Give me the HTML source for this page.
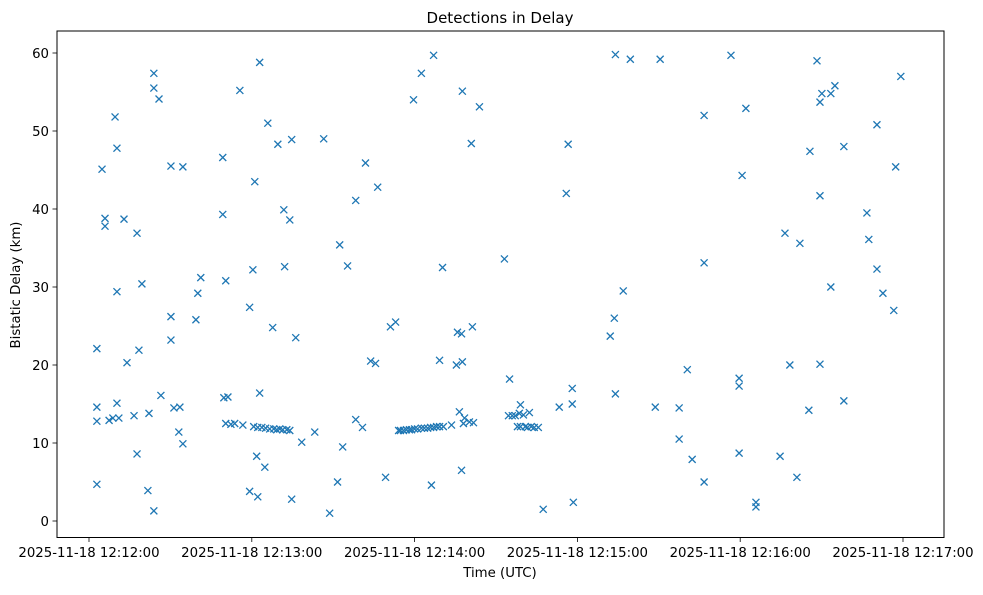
<!DOCTYPE html>
<html><head><meta charset="utf-8"><style>
body{margin:0;background:#fff;width:983px;height:590px;overflow:hidden;font-family:"Liberation Sans","DejaVu Sans",sans-serif}
svg text{font-family:"DejaVu Sans","Liberation Sans",sans-serif;fill:#000}
</style></head><body>
<svg id="chart" width="983" height="590" xmlns="http://www.w3.org/2000/svg">
<rect width="983" height="590" fill="#fff"/>
<text x="500" y="23" font-size="15" text-anchor="middle">Detections in Delay</text>
<g id="marks"></g>
<g id="axes"></g>
<rect x="57" y="31" width="887" height="506.5" fill="none" stroke="#000" stroke-width="1"/>
<text x="500" y="577" font-size="13.3" text-anchor="middle">Time (UTC)</text>
<text transform="translate(20,285) rotate(-90)" font-size="13.3" text-anchor="middle">Bistatic Delay (km)</text>
</svg>
<script>
// seconds after 2025-11-18 12:12:00
const times = [2.9,2.9,2.9,2.9,4.8,5.9,5.9,7.4,8.8,9.6,10.3,10.3,10.3,11.0,12.9,14.0,16.6,17.7,17.7,18.4,19.5,21.7,22.1,23.9,23.9,23.9,25.8,26.5,30.2,30.2,30.2,31.3,33.1,33.5,34.6,34.6,39.4,40.1,41.2,49.3,49.3,49.7,50.4,51.2,50.4,52.3,53.7,55.6,56.7,59.2,59.2,60.4,60.7,61.1,61.8,62.2,62.9,62.9,62.2,63.7,64.8,65.1,65.9,66.6,67.7,68.1,69.2,69.6,70.3,71.4,71.8,72.1,72.9,74.0,74.0,74.7,74.7,76.2,78.4,83.2,86.5,88.7,91.6,92.4,93.5,95.3,98.3,98.3,100.8,101.9,103.8,105.6,106.4,109.3,111.1,113.0,114.1,114.8,115.9,117.0,118.1,118.9,119.6,120.0,121.1,122.5,122.5,123.6,124.8,125.9,126.2,127.0,127.0,128.1,129.2,129.2,130.3,130.6,133.6,135.4,135.8,136.5,137.3,137.3,137.6,137.6,138.0,138.4,140.2,140.9,141.3,141.7,143.9,153.1,155.0,154.6,156.0,157.1,157.9,158.6,159.0,159.0,160.1,160.8,161.6,162.3,163.0,164.1,165.6,167.4,173.3,175.9,176.6,178.1,178.1,178.5,192.1,193.6,194.0,194.0,196.9,199.5,208.7,210.5,217.5,217.5,220.5,222.3,226.7,226.7,226.7,236.6,239.6,239.6,239.6,240.7,242.1,245.8,245.8,254.7,256.5,258.3,260.9,262.0,265.3,265.7,268.3,269.4,269.4,269.4,270.1,273.4,273.4,274.9,278.2,278.2,286.7,287.4,290.4,290.4,292.6,296.6,297.3,299.2];
const delays = [22.1,14.6,12.8,4.7,45.1,38.8,37.8,12.9,13.2,51.8,47.8,29.4,15.1,13.2,38.7,20.3,13.5,36.9,8.6,21.9,30.4,3.9,13.8,57.4,55.5,1.3,54.1,16.1,45.5,26.2,23.2,14.5,11.4,14.6,9.9,45.4,25.8,29.2,31.2,46.6,39.3,15.8,30.8,15.9,12.5,12.4,12.5,55.2,12.3,3.8,27.4,32.2,12.1,43.5,8.3,3.1,58.8,16.4,12.0,12.0,6.9,11.9,51.0,11.8,24.8,11.8,11.7,48.3,11.8,11.7,39.9,32.6,11.7,38.6,11.6,2.8,48.9,23.5,10.1,11.4,49.0,1.0,5.0,35.4,9.5,32.7,41.1,13.0,12.0,45.9,20.5,20.2,42.8,5.6,24.9,25.5,11.6,11.6,11.6,11.7,11.7,11.7,54.0,11.8,11.8,57.4,11.9,11.9,11.9,12.0,4.6,12.0,59.7,12.1,20.6,12.1,32.5,12.1,12.3,20.0,24.2,14.0,6.5,24.0,55.1,20.4,12.5,13.2,12.7,48.4,24.9,12.6,53.1,33.6,18.2,13.5,13.5,13.5,12.1,13.8,14.9,12.1,13.6,12.1,12.0,13.9,12.1,12.0,12.0,1.5,14.6,42.0,48.3,17.0,15.0,2.4,23.7,26.0,16.3,59.8,29.5,59.2,14.6,59.2,14.5,10.5,19.4,7.9,52.0,33.1,5.0,59.7,18.3,17.3,8.7,44.3,52.9,2.4,1.8,8.3,36.9,20.0,5.6,35.6,14.2,47.4,59.0,53.7,41.7,20.1,54.8,54.8,30.0,55.8,48.0,15.4,39.5,36.1,32.3,50.8,29.2,27.0,45.4,57.0];
const xTickSecs = [0,60,120,180,240,300];
const xTickLabels = ["2025-11-18 12:12:00","2025-11-18 12:13:00","2025-11-18 12:14:00","2025-11-18 12:15:00","2025-11-18 12:16:00","2025-11-18 12:17:00"];
const yTicks = [0,10,20,30,40,50,60];

const NS = "http://www.w3.org/2000/svg";
function xScale(s){ return 89 + s * (162.8/60); }
function yScale(v){ return 521 - v * 7.8; }
const marks = document.getElementById('marks');
const axes = document.getElementById('axes');
function mk(tag, attrs, parent){ const e=document.createElementNS(NS,tag); for(const k in attrs) e.setAttribute(k,attrs[k]); parent.appendChild(e); return e; }

for (let i=0;i<times.length;i++){
  const cx=xScale(times[i]), cy=yScale(delays[i]), r=3.5;
  const p = mk('path',{d:`M${cx-r},${cy-r}L${cx+r},${cy+r}M${cx-r},${cy+r}L${cx+r},${cy-r}`,stroke:'#1f77b4','stroke-width':1.3,fill:'none'},marks);
  
  
}
xTickSecs.forEach((s,i)=>{
  const x=xScale(s);
  const t = mk('line',{x1:x,x2:x,y1:537.5,y2:542,stroke:'#000','stroke-width':0.8},axes);
  
  
  const l = mk('text',{x:x,y:557,'font-size':13.3,'text-anchor':'middle'},axes);
  l.textContent = xTickLabels[i];
  
  
});
yTicks.forEach(v=>{
  const y=yScale(v);
  const t = mk('line',{x1:52.5,x2:57,y1:y,y2:y,stroke:'#000','stroke-width':0.8},axes);
  
  
  const l = mk('text',{x:49,y:y+5,'font-size':13.3,'text-anchor':'end'},axes);
  l.textContent = String(v);
  
  
});
</script>
</body></html>
